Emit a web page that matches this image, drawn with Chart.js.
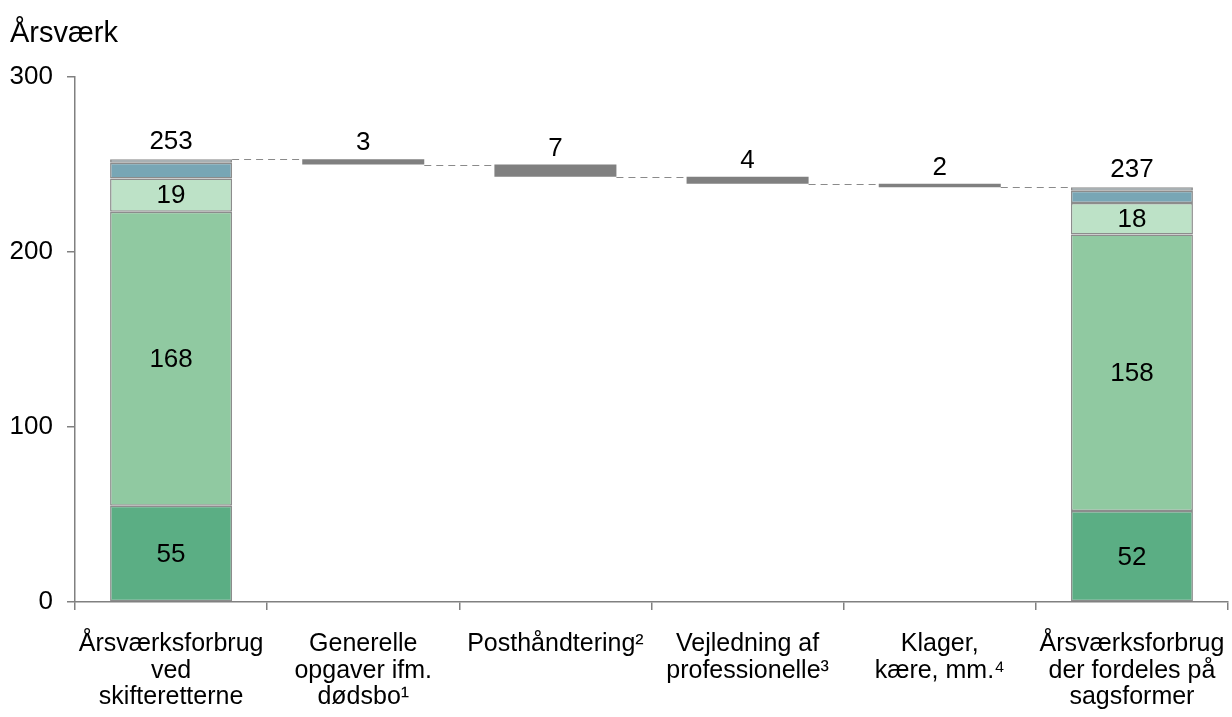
<!DOCTYPE html>
<html>
<head>
<meta charset="utf-8">
<script src="https://cdn.jsdelivr.net/npm/chart.js@4.4.0/dist/chart.umd.min.js"></script>
<style>
html,body{margin:0;padding:0;background:#fff;}
#wrap{position:relative;width:1232px;height:717px;}
</style>
</head>
<body>
<div id="wrap"><canvas id="c" width="1232" height="717"></canvas></div>
<script>
// ---- data ----
const categories = [
  ["Årsværksforbrug","ved","skifteretterne"],
  ["Generelle","opgaver ifm.","dødsbo¹"],
  ["Posthåndtering²"],
  ["Vejledning af","professionelle³"],
  ["Klager,","kære, mm.⁴"],
  ["Årsværksforbrug","der fordeles på","sagsformer"]
];
const segDark      = [55, null, null, null, null, 52];
const segMid       = [168, null, null, null, null, 158];
const segLight     = [19, null, null, null, null, 18];
const segBlue      = [9, null, null, null, null, 7];
const segLightBlue = [2, null, null, null, null, 2];
const changes      = [null, 3, 7, 4, 2, null];
const totals       = [253, null, null, null, null, 237];
const yTicks       = [0, 100, 200, 300];
const yTitle       = "Årsværk";

// ---- build ranges ----
const segs = [segDark, segMid, segLight, segBlue, segLightBlue];
const segRanges = segs.map(() => []);
for (let i = 0; i < categories.length; i++) {
  let base = 0;
  segs.forEach((s, k) => {
    if (s[i] == null) { segRanges[k].push(null); }
    else { segRanges[k].push([base, base + s[i]]); base += s[i]; }
  });
}
const floatRanges = [];
const levels = [];
let level = totals[0];
for (let i = 0; i < categories.length; i++) {
  if (changes[i] != null) {
    floatRanges.push([level - changes[i], level]);
    level -= changes[i];
  } else {
    floatRanges.push(null);
    if (totals[i] != null) level = totals[i];
  }
  levels.push(level);
}

const FONT = "'Liberation Sans', Arial, sans-serif";
const segColors = ['#5bae84', '#90c9a1', '#bde2c7', '#78a6b5', '#abc9d5'];
const segLabelShow = [true, true, true, false, false];

const datasets = segRanges.map((r, k) => ({
  data: r,
  backgroundColor: segColors[k],
  borderColor: '#8c8c8c',
  borderWidth: 1.5,
  borderSkipped: false
}));
datasets.push({
  data: floatRanges,
  backgroundColor: '#808080',
  borderWidth: 0
});

const labelPlugin = {
  id: 'labels',
  afterDatasetsDraw(chart) {
    const ctx = chart.ctx;
    const y = chart.scales.y;
    ctx.save();
    ctx.font = '26px ' + FONT;
    ctx.fillStyle = '#000';
    ctx.textAlign = 'center';
    segs.forEach((s, k) => {
      if (!segLabelShow[k]) return;
      const meta = chart.getDatasetMeta(k);
      s.forEach((v, i) => {
        if (v == null) return;
        const el = meta.data[i];
        const r = segRanges[k][i];
        ctx.textBaseline = 'middle';
        ctx.fillText(String(v), el.x, y.getPixelForValue((r[0] + r[1]) / 2) + 1);
      });
    });
    ctx.textBaseline = 'alphabetic';
    const fmeta = chart.getDatasetMeta(segs.length);
    const tmeta = chart.getDatasetMeta(segs.length - 1);
    for (let i = 0; i < categories.length; i++) {
      if (totals[i] != null) {
        const el = tmeta.data[i];
        ctx.fillText(String(totals[i]), el.x, y.getPixelForValue(totals[i]) - 10);
      } else if (changes[i] != null) {
        const el = fmeta.data[i];
        ctx.fillText(String(changes[i]), el.x, y.getPixelForValue(floatRanges[i][1]) - 9);
      }
    }
    ctx.strokeStyle = '#8a8a8a';
    ctx.lineWidth = 1.2;
    ctx.setLineDash([7, 5]);
    for (let i = 0; i < categories.length - 1; i++) {
      const a = (changes[i] != null ? fmeta : tmeta).data[i];
      const b = (changes[i + 1] != null ? fmeta : tmeta).data[i + 1];
      const py = Math.round(y.getPixelForValue(levels[i])) + 0.5;
      ctx.beginPath();
      ctx.moveTo(a.x + a.width / 2, py);
      ctx.lineTo(b.x - b.width / 2, py);
      ctx.stroke();
    }
    ctx.setLineDash([]);
    ctx.textAlign = 'left';
    ctx.font = '29px ' + FONT;
    ctx.fillText(yTitle, 10, 42);
    ctx.restore();
  }
};

new Chart(document.getElementById('c'), {
  type: 'bar',
  data: { labels: categories, datasets },
  options: {
    responsive: false,
    animation: false,
    events: [],
    layout: { padding: { top: 77, right: 4, left: 0, bottom: 0 } },
    plugins: { legend: { display: false }, tooltip: { enabled: false } },
    datasets: { bar: { categoryPercentage: 1, barPercentage: 0.635 } },
    scales: {
      x: {
        stacked: true,
        grid: { display: true, drawOnChartArea: false, offset: true, color: '#808080', tickLength: 8, lineWidth: 1.5 },
        border: { display: true, color: '#808080', width: 1.5 },
        ticks: { color: '#000', font: { family: FONT, size: 25, lineHeight: 1.06 }, padding: 21, maxRotation: 0, autoSkip: false },
        afterFit(s) { s.height = 115; s.paddingLeft = 0; s.paddingRight = 0; }
      },
      y: {
        stacked: false,
        min: 0, max: 300,
        afterBuildTicks(s) { s.ticks = yTicks.map(v => ({ value: v })); },
        grid: { display: true, drawOnChartArea: false, color: '#808080', tickLength: 8, lineWidth: 1.5 },
        border: { display: true, color: '#808080', width: 1.5 },
        ticks: { color: '#000', font: { family: FONT, size: 26 }, padding: 14 },
        afterFit(s) { s.width = 75; s.paddingTop = 0; s.paddingBottom = 0; }
      }
    }
  },
  plugins: [labelPlugin]
});
</script>
</body>
</html>
